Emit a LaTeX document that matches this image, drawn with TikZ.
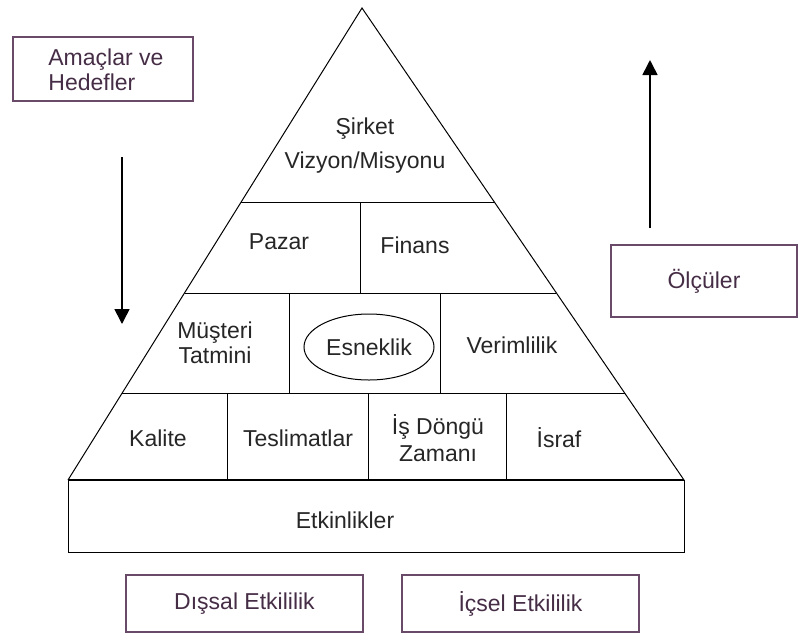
\documentclass[tikz,border=0pt]{standalone}
\usepackage{fontspec}
\setmainfont{Liberation Sans}
\usetikzlibrary{arrows.meta,shapes.geometric}
\definecolor{boxline}{RGB}{105,75,105}
\definecolor{boxtext}{RGB}{70,45,70}
\begin{document}
\begin{tikzpicture}[x=0.5pt, y=-0.5pt,
		l/.style = {font=\fontsize{11.5}{12.5}\selectfont, text=black!85, align=center, inner sep=0pt},
		b/.style = {draw=boxline, line width=0.6pt, font=\fontsize{11.5}{12.5}\selectfont, text=boxtext, inner sep=0pt},
		p/.style = {line width=0.5pt},
		g/.style = {-{Triangle[width=7.5pt, length=7.5pt]}, line width=0.8pt}
		]
		\useasboundingbox (0,0) rectangle (800,634);
		
		%Pyramid
		\coordinate	(apex)	at	(362, 8);
		\coordinate	(bl)	at	(68, 480);
		\coordinate	(br)	at	(684, 480);
		\draw[p]	(bl) -- (apex) -- (br);
		\draw[p]	(241.2, 202) -- (494.3, 202);
		\draw[p]	(184.5, 293) -- (556.4, 293);
		\draw[p]	(122.2, 393) -- (624.7, 393);
		\draw[p]	(360, 202) -- (360, 293);
		\draw[p]	(289, 293) -- (289, 393);
		\draw[p]	(440, 293) -- (440, 393);
		\draw[p]	(227, 393) -- (227, 480);
		\draw[p]	(368, 393) -- (368, 480);
		\draw[p]	(506, 393) -- (506, 480);
		\draw[p]	(68, 480) rectangle (684, 552);
		\draw[line width=1.1pt]	(bl) -- (br);
		
		%Nodes
		\node[l]	(vision)	at	(365, 146)	{Şirket\\[4.5pt]Vizyon/Misyonu};
		\node[l]	(market)	at	(279, 242)	{Pazar};
		\node[l]	(finance)	at	(415, 245)	{Finans};
		\node[l]	(customer)	at	(215, 343)	{Müşteri\\Tatmini};
		\node[draw, ellipse, line width=0.5pt, minimum width=65pt, minimum height=33pt, l]	(flex)	at	(369, 347)	{Esneklik};
		\node[l]	(prod)		at	(512, 345)	{Verimlilik};
		\node[l]	(quality)	at	(158, 438)	{Kalite};
		\node[l]	(delivery)	at	(298, 438)	{Teslimatlar};
		\node[l]	(cycle)		at	(438, 438)	{İş Döngü\\[1pt]Zamanı};
		\node[l]	(waste)		at	(559, 438)	{İsraf};
		\node[l]	(activity)	at	(345, 520)	{Etkinlikler};
		
		\node[b, minimum width=90pt, minimum height=32pt]	(goals)		at	(103, 69)	{};
		\node[l, text=boxtext, anchor=west, align=left]	(goaltext)	at	(48, 70)	{Amaçlar ve\\Hedefler};
		\node[b, minimum width=93pt, minimum height=36pt]	(measures)	at	(704, 281)	{Ölçüler};
		\node[b, minimum width=118.5pt, minimum height=28.5pt]	(external)	at	(244.5, 603.5)	{Dışsal Etkililik};
		\node[b, minimum width=118.5pt, minimum height=28.5pt]	(internal)	at	(520.5, 603.5)	{İçsel Etkililik};
		
		%Lines
		\coordinate	(downs)	at	(122, 157);
		\coordinate	(downe)	at	(122, 324);
		\coordinate	(ups)	at	(650, 228);
		\coordinate	(upe)	at	(650, 60);
		\draw[g]	(downs) -- (downe);
		\draw[g]	(ups) -- (upe);
	\end{tikzpicture}
\end{document}
